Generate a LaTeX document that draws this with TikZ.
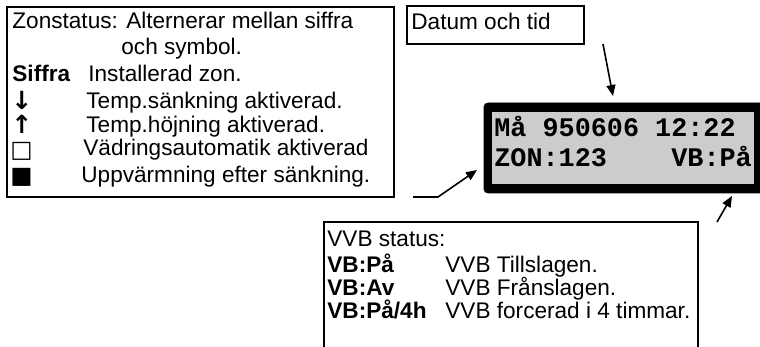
\documentclass[tikz,border=0pt]{standalone}
\usepackage{fontspec}
\setmainfont{Liberation Sans}
\newfontfamily\lcdfont{Liberation Mono}
\newfontfamily\symfont{DejaVu Sans}
\usetikzlibrary{arrows.meta}

\tikzset{
  txt/.style={anchor=base west, inner sep=0pt, font=\fontsize{11.3}{13}\selectfont},
  sym/.style={anchor=base west, inner sep=0pt, text height=7pt, text depth=1.5pt, font=\fontsize{12.5}{13}\selectfont\symfont\bfseries},
  box/.style={sym, font=\fontsize{11.8}{12}\selectfont\symfont\bfseries},
  lcdtxt/.style={anchor=base west, inner sep=0pt, font=\fontsize{13.4}{16}\selectfont\lcdfont\bfseries},
  pointer/.style={line width=0.8pt, -{Triangle[length=5.5pt,width=4.5pt]}},
}

\begin{document}
\begin{tikzpicture}[x=0.5pt,y=-0.5pt]

\definecolor{lcdgray}{RGB}{204, 204, 204}
\useasboundingbox (0,0) rectangle (760,347);

% Zone status box
\draw[line width=0.8pt] (7,7) rectangle (394,197);
\node[txt] (zoneHead) at (12,29) {Zonstatus: Alternerar mellan siffra};
\node[txt] (zoneHead2) at (121,55) {och symbol.};
\node[txt] (numKey) at (12,82) {\textbf{Siffra}};
\node[txt] (numVal) at (88,82) {Installerad zon.};
\node[sym] (downKey) at (11,110) {↓};
\node[txt] (downVal) at (86,109) {Temp.sänkning aktiverad.};
\node[sym] (upKey) at (11,134) {↑};
\node[txt] (upVal) at (86,133) {Temp.höjning aktiverad.};
\node[box] (airKey) at (10,158) {□};
\node[txt] (airVal) at (83,156) {Vädringsautomatik aktiverad};
\node[box] (heatKey) at (10,184) {■};
\node[txt] (heatVal) at (81,183) {Uppvärmning efter sänkning.};

% Date box
\draw[line width=0.8pt] (407,6) rectangle (584,44);
\node[txt] (dateText) at (411,30) {Datum och tid};

% The display
\draw[fill=black, rounded corners=2pt] (484,103) rectangle (764,193);
\fill[lcdgray] (492,112) rectangle (754,184);
\node[lcdtxt] (lcdRow1) at (494,137) {Må 950606 12:22};
\node[lcdtxt] (lcdZon) at (494,167) {ZON:123};
\node[lcdtxt] (lcdVB) at (671,167) {VB:På};

% VVB box, open at the bottom
\draw[line width=0.8pt] (324,222) rectangle (698,360);
\node[txt] (vvbHead) at (327,247) {VVB status:};
\node[txt] (onKey) at (327,272) {\textbf{VB:På}};
\node[txt] (onVal) at (445,272) {VVB Tillslagen.};
\node[txt] (offKey) at (327,295) {\textbf{VB:Av}};
\node[txt] (offVal) at (445,295) {VVB Frånslagen.};
\node[txt] (forceKey) at (327,318) {\textbf{VB:På/4h}};
\node[txt] (forceVal) at (445,318) {VVB forcerad i 4 timmar.};

% Pointers
\coordinate (dateTail) at (603,44);
\coordinate (dateTip) at (613,96);
\coordinate (zoneTail) at (413,197);
\coordinate (zoneBend) at (438,197);
\coordinate (zoneTip) at (477,170);
\coordinate (vvbTail) at (717,222);
\coordinate (vvbTip) at (732,196);
\draw[pointer] (dateTail) -- (dateTip);
\draw[pointer] (zoneTail) -- (zoneBend) -- (zoneTip);
\draw[pointer] (vvbTail) -- (vvbTip);

\end{tikzpicture}
\end{document}
